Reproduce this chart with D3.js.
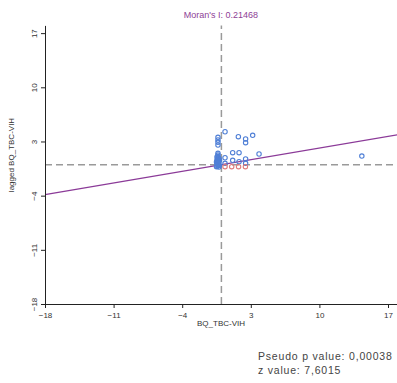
<!DOCTYPE html>
<html><head><meta charset="utf-8">
<script src="https://cdn.jsdelivr.net/npm/d3@7"></script>
<style>body{margin:0;background:#fff}svg{display:block}text{font-family:Arial,"Liberation Sans",sans-serif}</style>
</head><body><svg id="c" width="397" height="383"></svg>
<script>
const title = "Moran's I: 0.21468";
const moranI = 0.21468;
const xLabel = "BQ_TBC-VIH";
const yLabel = "lagged BQ_TBC-VIH";
const tickValues = [-18, -11, -4, 3, 10, 17];
const footLines = ["Pseudo p value: 0,00038", "z value: 7,6015"];
// standardized values (x) and spatial lag (y)
const xs = [0.37,1.73,2.47,3.19,2.47,1.15,1.8,3.84,0.37,1.15,1.8,2.47,2.47,0.37,14.33,
  -0.35,-0.35,-0.35,-0.35,-0.35,-0.35,-0.35,-0.35,-0.35,-0.35,-0.35,-0.35,-0.35,
  -0.45,-0.25,-0.45,-0.25,-0.45,-0.25,-0.45,-0.25,-0.3,-0.4,-0.2,-0.5,
  -0.3,-0.4,-0.2,-0.5,-0.3,-0.4,
  0.37,1.05,1.75,2.45];
const ys = [4.26,3.62,3.32,3.8,2.84,1.55,1.55,1.38,0.9,0.57,0.39,0.74,0.18,0.18,1.12,
  3.54,3.19,2.89,2.54,1.47,1.25,1.05,0.85,0.65,0.45,0.25,0.05,-0.15,
  1.0,0.8,0.6,0.4,0.2,0.0,-0.2,-0.3,0.3,0.1,-0.1,-0.25,
  0.7,0.5,0.55,0.35,-0.05,0.15,
  -0.26,-0.26,-0.26,-0.26];

const svg = d3.select("#c");
const x = d3.scaleLinear().domain([-18, 18]).range([45, 397.8]);
const y = d3.scaleLinear().domain([-18, 18]).range([304, 25.4]);

svg.append("text").attr("x", 221).attr("y", 18).attr("text-anchor", "middle")
  .attr("font-size", 9).attr("fill", "#8e3e96").text(title);

// dashed mean lines
svg.append("line").attr("x1", x(-18)).attr("x2", x(18)).attr("y1", y(0)).attr("y2", y(0))
  .attr("stroke", "#9a9a9a").attr("stroke-width", 1.5).attr("stroke-dasharray", "7,4");
svg.append("line").attr("x1", x(0)).attr("x2", x(0)).attr("y1", y(-18)).attr("y2", y(18))
  .attr("stroke", "#9a9a9a").attr("stroke-width", 1.5).attr("stroke-dasharray", "7,4");

// regression line
svg.append("line").attr("x1", x(-18)).attr("y1", y(-18 * moranI))
  .attr("x2", x(18)).attr("y2", y(18 * moranI))
  .attr("stroke", "#8b3a98").attr("stroke-width", 1.1);

// points
const pts = xs.map((v, i) => ({x: v, y: ys[i]}));
svg.append("g").selectAll("circle").data(pts).join("circle")
  .attr("cx", d => x(d.x)).attr("cy", d => y(d.y)).attr("r", 2.2)
  .attr("fill", "none").attr("stroke-width", 1.1)
  .attr("stroke", d => (d.x > 0 && d.y < 0) ? "#e07a7a" : "#4f7fd6");

// axes
const xa = svg.append("g").attr("transform", `translate(0,${y(-18)})`)
  .call(d3.axisBottom(x).tickValues(tickValues).tickSize(4).tickSizeOuter(0));
const ya = svg.append("g").attr("transform", `translate(${x(-18)},0)`)
  .call(d3.axisLeft(y).tickValues(tickValues).tickSize(4).tickSizeOuter(0));
[xa, ya].forEach(g => {
  g.select(".domain").attr("stroke", "#222");
  g.selectAll(".tick line").attr("stroke", "#222");
  g.selectAll("text").attr("font-family", "Arial, 'Liberation Sans', sans-serif")
    .attr("font-size", 8).attr("fill", "#333");
});
xa.selectAll("text").attr("dy", "0.9em");
ya.selectAll(".tick text").attr("transform", "rotate(-90)")
  .attr("x", 0).attr("y", -8).attr("dy", 0).attr("text-anchor", "middle");

svg.append("text").attr("x", 221).attr("y", 326).attr("text-anchor", "middle")
  .attr("font-size", 8).attr("fill", "#333").text(xLabel);
svg.append("text").attr("transform", "translate(14,155) rotate(-90)").attr("text-anchor", "middle")
  .attr("font-size", 8).attr("fill", "#333").text(yLabel);

footLines.forEach((t, i) => {
  svg.append("text").attr("x", 258).attr("y", 360 + i * 13.5)
    .attr("font-size", 10.5).attr("letter-spacing", 0.8).attr("fill", "#444").text(t);
});
</script></body></html>
